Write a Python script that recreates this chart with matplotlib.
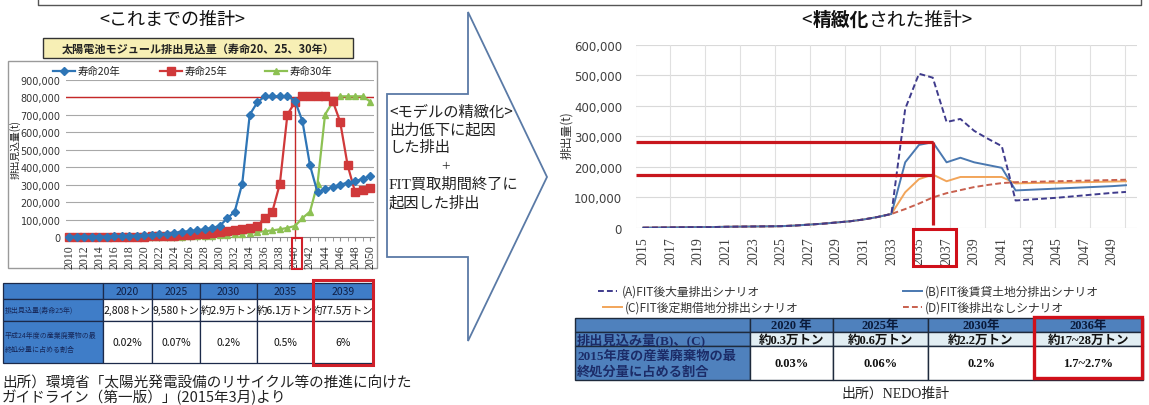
import numpy as np
import matplotlib
matplotlib.use("Agg")
import matplotlib.pyplot as plt
from matplotlib.patches import Rectangle, Polygon
from matplotlib.lines import Line2D
from matplotlib.ticker import FuncFormatter, MultipleLocator, FixedLocator

plt.rcParams['font.family'] = ['Noto Sans CJK JP', 'DejaVu Sans']

# ---------------- data ----------------
years_left = list(range(2010, 2051))
life20 = [2100, 2300, 2500, 2600, 2700, 2800, 3500, 4500, 6000, 7800,
          9600, 12000, 15000, 19000, 24000, 29000, 33000, 38000, 44000, 52000,
          63000, 106000, 145000, 305000, 700000, 770000, 805000, 805000, 805000, 805000,
          780000, 662000, 410000, 255000, 272000, 285000, 300000, 310000, 320000, 332000, 350000]
life25 = [800, 1000, 1300, 1600, 1900, 2100, 2300, 2500, 2600, 2700, 2800,
          3500, 4500, 6000, 7800, 9600, 12000, 15000, 19000, 24000, 29000,
          33000, 38000, 44000, 52000, 63000, 108000, 145000, 305000, 700000, 772000,
          805000, 805000, 805000, 805000, 780000, 660000, 410000, 255000, 268000, 283000]
life30 = [300, 400, 500, 600, 700,
          800, 1000, 1300, 1600, 1900, 2100, 2300, 2500, 2600, 2700, 2800,
          3500, 4500, 6000, 7800, 9600, 12000, 15000, 19000, 24000, 29000,
          33000, 38000, 44000, 52000, 63000, 108000, 145000, 305000, 700000, 772000,
          805000, 805000, 805000, 805000, 775000]
left_series_names = ["寿命20年", "寿命25年", "寿命30年"]
left_highlight_value = 800000
left_highlight_year = 2040

years_right = list(range(2015, 2051))
scenA = [1000, 1500, 2000, 2500, 3000, 3000, 4000, 4500, 5000, 5500, 6000, 8000, 11000, 14000, 18000,
         22000, 28000, 36000, 46000,
         390000, 505000, 492000, 347000, 357000, 318000, 292000, 268000, 90000, 93000, 96000,
         99000, 103000, 107000, 111000, 115000, 118000]
scenB = [1000, 1500, 2000, 2500, 3000, 3000, 4000, 4500, 5000, 5500, 6000, 8000, 11000, 14000, 18000,
         22000, 28000, 36000, 46000,
         215000, 272000, 281000, 215000, 230000, 215000, 206000, 197000, 123000, 125000, 127000,
         129000, 131000, 133000, 135000, 137000, 140000]
scenC = [1000, 1500, 2000, 2500, 3000, 3000, 4000, 4500, 5000, 5500, 6000, 8000, 11000, 14000, 18000,
         22000, 28000, 36000, 46000,
         117000, 160000, 175000, 153000, 167000, 167000, 167000, 167000, 146000, 147000, 148000,
         148000, 149000, 150000, 151000, 152000, 153000]
scenD = [1000, 1500, 2000, 2500, 3000, 3000, 4000, 4500, 5000, 5500, 6000, 8000, 11000, 14000, 18000,
         22000, 28000, 36000, 46000,
         62000, 80000, 100000, 114000, 124000, 134000, 141000, 147000, 150000, 151000, 152000,
         153000, 154000, 155000, 156000, 157000, 158000]
scen_names = ["(A)FIT後大量排出シナリオ", "(B)FIT後賃貸土地分排出シナリオ",
              "(C)FIT後定期借地分排出シナリオ", "(D)FIT後排出なしシナリオ"]
right_highlight_year = 2036

left_tbl_header = ["", "2020", "2025", "2030", "2035", "2039"]
left_tbl_row1_label = "排出見込量(寿命25年)"
left_tbl_row1 = ["2,808トン", "9,580トン", "約2.9万トン", "約6.1万トン", "約77.5万トン"]
left_tbl_row2_label = "平成24年度の産業廃棄物の最\n終処分量に占める割合"
left_tbl_row2 = ["0.02%", "0.07%", "0.2%", "0.5%", "6%"]

right_tbl_header = ["", "2020 年", "2025年", "2030年", "2036年"]
right_tbl_row1_label = "排出見込み量(B)、(C)"
right_tbl_row1 = ["約0.3万トン", "約0.6万トン", "約2.2万トン", "約17~28万トン"]
right_tbl_row2_label = "2015年度の産業廃棄物の最\n終処分量に占める割合"
right_tbl_row2 = ["0.03%", "0.06%", "0.2%", "1.7~2.7%"]

# ---------------- figure ----------------
W, H = 1149, 406
fig = plt.figure(figsize=(W / 100, H / 100), dpi=100)
fig.patch.set_facecolor('white')


def axes_px(x0, y0, x1, y1, **kw):
    return fig.add_axes([x0 / W, 1 - y1 / H, (x1 - x0) / W, (y1 - y0) / H], **kw)


bg = axes_px(0, 0, W, H)
bg.set_xlim(0, W); bg.set_ylim(H, 0); bg.axis('off'); bg.set_zorder(0)
fg = axes_px(0, 0, W, H)
fg.set_xlim(0, W); fg.set_ylim(H, 0); fg.axis('off'); fg.set_zorder(10)
fg.patch.set_alpha(0)

SERIF = ['Liberation Serif', 'Noto Sans CJK JP']

# top box edge
bg.plot([37.7, 37.7, 1141, 1141], [-2, 6, 6, -2], color='#555555', lw=1.0)

# headings
bg.text(172, 20, "<これまでの推計>", fontsize=13, ha='center', va='center', color='#111')
r = fig.canvas.get_renderer()
xcur = 801
for part, wt, adj in (("<", 'normal', 1.5), ("精緻化", 'bold', -1.0), ("された推計>", 'normal', 0)):
    t = bg.text(xcur, 20, part, fontsize=13.5, ha='left', va='center', weight=wt, color='#111')
    xcur = t.get_window_extent(r).x1 + adj

# ---------------- left chart ----------------
bg.add_patch(Rectangle((8, 61.7), 369, 207.5, facecolor='white', edgecolor='#9a9a9a', lw=1.0))
bg.add_patch(Rectangle((43, 39), 310, 20, facecolor='#f7efb5', edgecolor='#333333', lw=1.0))
bg.text(198, 49.5, "太陽電池モジュール排出見込量（寿命20、25、30年）", fontsize=8, weight='bold',
        ha='center', va='center', color='#222')

colL = ['#2e75b6', '#d0393a', '#8dc153']
mkL = ['D', 's', '^']
msL = [3.6, 5.5, 4.6]
legx = [(53, 75, 78), (160, 182, 185), (265, 287, 290)]
for (x0, x1, xt), c, m, ms, name in zip(legx, colL, mkL, msL, left_series_names):
    bg.add_line(Line2D([x0, x1], [71.7, 71.7], color=c, lw=1.6))
    bg.plot([(x0 + x1) / 2], [71.7], marker=m, color=c, markersize=ms, lw=0)
    bg.text(xt, 71.7, name, fontsize=7.5, va='center', ha='left', color='#222')

axL = axes_px(66, 80.7, 374, 238)
axL.set_zorder(2)
axL.set_xlim(2009.6, 2050.5)
axL.set_ylim(0, 900000)
for v in range(100000, 900001, 100000):
    axL.axhline(v, color='#a8a8a8', lw=0.8, zorder=0)
axL.axhline(left_highlight_value, color='#c62828', lw=1.0, zorder=1)
axL.vlines(left_highlight_year, 0, left_highlight_value, color='#c62828', lw=1.0, zorder=1)
series_left = [life20, life25, life30]
for idx in (2, 1, 0):
    axL.plot(years_left, series_left[idx], color=colL[idx], lw=1.6, marker=mkL[idx],
             markersize=msL[idx], clip_on=False, zorder=3)
for s in ('top', 'right', 'left'):
    axL.spines[s].set_visible(False)
axL.spines['bottom'].set_color('#8a8a8a')
axL.yaxis.set_major_locator(MultipleLocator(100000))
axL.yaxis.set_major_formatter(FuncFormatter(lambda v, p: f"{int(v):,}"))
axL.xaxis.set_major_locator(MultipleLocator(2))
axL.xaxis.set_minor_locator(MultipleLocator(1))
axL.tick_params(axis='y', length=0, labelsize=7, pad=4, labelcolor='#333')
for lab in axL.get_yticklabels():
    lab.set_family('DejaVu Sans')
axL.tick_params(axis='x', which='both', length=3, color='#8a8a8a', labelsize=8.5,
                labelrotation=90, pad=2, labelcolor='#333')
for lab in axL.get_xticklabels():
    lab.set_family('Liberation Serif')
bg.text(15, 150, "排出見込量(t)", fontsize=7, rotation=90, ha='center', va='center', color='#222')
fg.add_patch(Rectangle((291.5, 239), 10.5, 31, fill=False, edgecolor='#d0202a', lw=1.5))

# ---------------- left table ----------------
lxs = [3, 103, 152, 200, 257, 313, 373]
lys = [284, 300, 322, 364]
blueL = '#3f7dc8'
rowsL = [left_tbl_header, [left_tbl_row1_label] + left_tbl_row1, [left_tbl_row2_label] + left_tbl_row2]
for i, row in enumerate(rowsL):
    for j, txt in enumerate(row):
        x0, x1, y0, y1 = lxs[j], lxs[j + 1], lys[i], lys[i + 1]
        fc = blueL if (i == 0 or j == 0) else 'white'
        bg.add_patch(Rectangle((x0, y0), x1 - x0, y1 - y0, facecolor=fc, edgecolor='#1c2a4a', lw=0.9))
        if not txt:
            continue
        if j == 0:
            bg.text(x0 + 2, (y0 + y1) / 2, txt, fontsize=5, ha='left', va='center',
                    color='#17285a', linespacing=1.9)
        elif i == 0:
            bg.text((x0 + x1) / 2, (y0 + y1) / 2, txt, fontsize=7.5, ha='center', va='center',
                    color='#0f1f45')
        else:
            bg.text((x0 + x1) / 2, (y0 + y1) / 2, txt, fontsize=7.5, ha='center', va='center',
                    color='#111')
fg.add_patch(Rectangle((313, 281), 60, 85, fill=False, edgecolor='#d0202a', lw=2.2))

bg.text(2, 383, "出所）環境省「太陽光発電設備のリサイクル等の推進に向けた", fontsize=10.5,
        ha='left', va='center', color='#222')
bg.text(2, 397.5, "ガイドライン（第一版）」(2015年3月)より", fontsize=10.5, ha='left', va='center', color='#222')

# ---------------- arrow ----------------
bg.add_patch(Polygon([(387, 95), (468, 95), (468, 13), (547, 178), (468, 342), (468, 258), (387, 258)],
                     closed=True, facecolor='white', edgecolor='#5a7aa6', lw=1.3))
arrow_lines = [(389, 112, "<モデルの精緻化>", None), (389, 130, "出力低下に起因", None),
               (389, 148, "した排出", None), (441, 167, "+", SERIF),
               (389, 185, "FIT買取期間終了に", SERIF), (389, 203, "起因した排出", None)]
for x, y, s, fam in arrow_lines:
    kw = {} if fam is None else {'family': fam}
    bg.text(x, y, s, fontsize=11, ha='left', va='center', color='#222', **kw)

# ---------------- right chart ----------------
axR = axes_px(636, 45.7, 1137, 229)
axR.set_zorder(2)
axR.set_xlim(2014.49, 2050.8)
axR.set_ylim(0, 600000)
for v in range(0, 600001, 100000):
    axR.axhline(v, color='#d9d9d9', lw=0.8, zorder=0)
for xv in np.arange(15) * 2.535 + 2014.45:
    axR.axvline(xv, color='#e0e0e0', lw=0.8, zorder=0)
colA, colB, colC, colD = '#3f3b8c', '#4a78b0', '#f2a55a', '#c8604e'
axR.plot(years_right, scenC, color=colC, lw=1.4, zorder=3)
axR.plot(years_right, scenB, color=colB, lw=1.4, zorder=3)
axR.plot(years_right, scenD, color=colD, lw=1.4, ls=(0, (3, 1.6)), zorder=3)
axR.plot(years_right, scenA, color=colA, lw=1.4, ls=(0, (3, 1.6)), zorder=4)
hi = years_right.index(right_highlight_year)
axR.hlines([scenB[hi], scenC[hi]], 2014.49, right_highlight_year, color='#c8161d', lw=2.3, zorder=5)
axR.vlines(right_highlight_year, 10000, scenB[hi], color='#c8161d', lw=2.3, zorder=5)
for s in axR.spines.values():
    s.set_visible(False)
axR.yaxis.set_major_locator(MultipleLocator(100000))
axR.yaxis.set_major_formatter(FuncFormatter(lambda v, p: f"{int(v):,}"))
axR.xaxis.set_major_locator(FixedLocator(list(range(2015, 2050, 2))))
axR.tick_params(axis='y', length=0, labelsize=8.5, pad=10, labelcolor='#404040')
for lab in axR.get_yticklabels():
    lab.set_family('DejaVu Sans')
axR.tick_params(axis='x', length=0, labelsize=10, labelrotation=90, pad=6, labelcolor='#404040')
for lab in axR.get_xticklabels():
    lab.set_family('Liberation Serif')
bg.text(567, 135, "排出量(t)", fontsize=8.5, rotation=90, ha='center', va='center', color='#333')
fg.add_patch(Rectangle((913, 230), 43, 37, fill=False, edgecolor='#d0101a', lw=2.2))

# legend (right)
leg = [(598, 617, 622, 292, colA, (0, (3, 1.6)), scen_names[0]),
       (903, 922, 925, 292, colB, '-', scen_names[1]),
       (603, 622, 625, 308, colC, '-', scen_names[2]),
       (903, 922, 925, 308, colD, (0, (3, 1.6)), scen_names[3])]
for x0, x1, xt, y, c, ls, name in leg:
    bg.add_line(Line2D([x0, x1], [y, y], color=c, lw=1.4, ls=ls))
    bg.text(xt, y, name, fontsize=8.5, ha='left', va='center', color='#333')

# ---------------- right table ----------------
rxs = [575, 750, 833, 928, 1034, 1143]
rys = [319, 333, 347, 381]
blueR = '#4f81bd'
rowsR = [right_tbl_header, [right_tbl_row1_label] + right_tbl_row1, [right_tbl_row2_label] + right_tbl_row2]
for i, row in enumerate(rowsR):
    for j, txt in enumerate(row):
        x0, x1, y0, y1 = rxs[j], rxs[j + 1], rys[i], rys[i + 1]
        if i == 0 or j == 0:
            fc = blueR
        elif i == 1:
            fc = '#e2eef3'
        else:
            fc = 'white'
        bg.add_patch(Rectangle((x0, y0), x1 - x0, y1 - y0, facecolor=fc, edgecolor='#1e2a3c', lw=1.0))
        if not txt:
            continue
        if j == 0:
            bg.text(x0 + 2, (y0 + y1) / 2 + 0.5, txt, fontsize=9.5, ha='left', va='center', weight='bold',
                    color='#1c2c68', family=SERIF, linespacing=1.3)
        else:
            bg.text((x0 + x1) / 2, (y0 + y1) / 2 + 0.5, txt, fontsize=9, ha='center', va='center',
                    weight='bold', color='#0a1a3a' if i == 0 else '#111', family=SERIF)
fg.add_patch(Rectangle((1034, 318), 108, 61, fill=False, edgecolor='#d0101a', lw=2.4))

bg.text(895, 394, "出所）NEDO推計", fontsize=10, ha='center', va='center', color='#222', family=SERIF)

fig.savefig("out.png", dpi=100, facecolor='white')
